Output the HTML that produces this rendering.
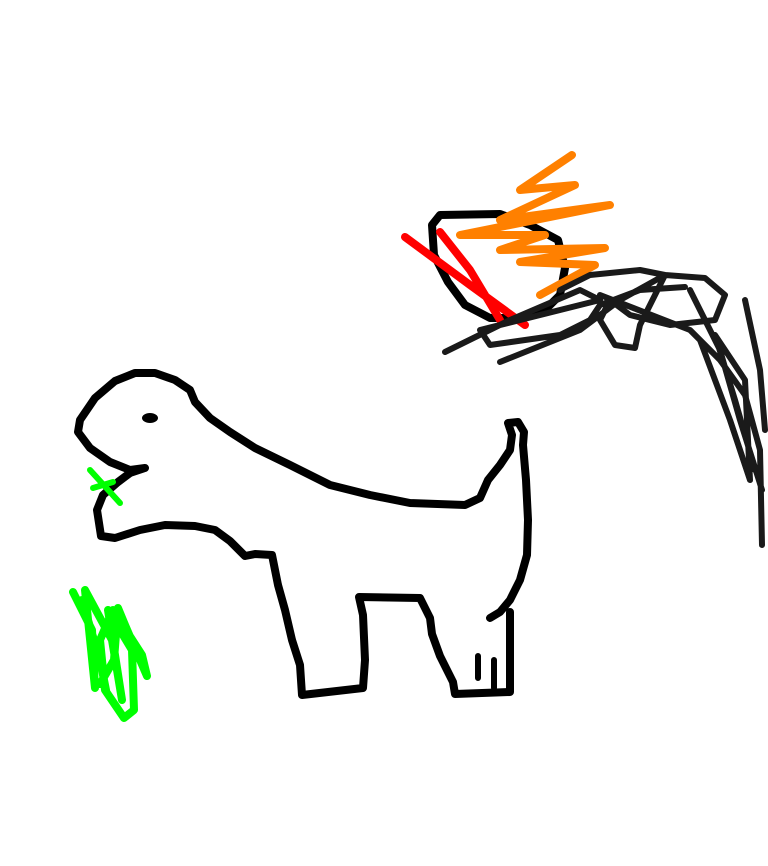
<!DOCTYPE html>
<html><head><meta charset="utf-8"><style>
html,body{margin:0;padding:0;background:#fff;width:768px;height:866px;overflow:hidden}
svg{display:block}
</style></head><body>
<svg width="768" height="866" viewBox="0 0 768 866" xmlns="http://www.w3.org/2000/svg" fill="none" stroke-linecap="round" stroke-linejoin="round">
<path stroke="#000" stroke-width="8" d="M145,468 L130,470 L110,462 L90,448 L78,432 L80,420 L95,398 L115,381 L135,373 L155,373 L175,380 L190,390 L195,402 L210,418 L230,432 L255,448 L290,465 L330,485 L370,495 L410,503 L465,505 L480,498 L488,480 L500,465 L510,450 L512,435 L508,423 L518,422 L524,432 L523,445 L526,480 L528,520 L527,555 L520,580 L510,600 L500,612 L490,618 M510,612 L510,692 L455,694 L453,682 L440,656 L432,634 L430,618 L420,598 L359,597 L363,615 L365,660 L363,688 L302,695 L300,665 L292,640 L285,610 L278,585 L272,555 L255,554 L245,556 L230,541 L215,530 L195,526 L165,525 L140,530 L115,538 L101,536 L97,510 L103,495 L118,482 L130,473 L145,468"/>
<ellipse cx="150" cy="418" rx="8" ry="5" fill="#000"/>
<path stroke="#000" stroke-width="6" d="M478,656 L478,678 M494,660 L494,688"/>
<path stroke="#00ff00" stroke-width="6" d="M90,470 L120,503 M93,488 L113,482"/>
<path stroke="#00ff00" stroke-width="8" d="M73,592 L92,630 L95,688 L85,590 L112,640 L122,700 L108,610 L132,650 L134,710 L124,718 L105,690 L100,640 L113,610 L142,655 L147,676 L125,625 L118,608 L114,660 L100,684 M82,600 L100,660 L106,690"/>
<path stroke="#000" stroke-width="8" d="M440,215 L500,214 L530,225 L558,240 L565,268 L560,295 L545,310 L520,318 L490,318 L465,305 L448,282 L434,255 L432,225 Z"/>
<path stroke="#ff0000" stroke-width="8" d="M405,237 L470,285 L525,325 M440,232 L470,270 L500,320"/>
<path stroke="#ff8000" stroke-width="8" d="M572,155 L520,190 L575,185 L500,220 L610,205 L460,235 L545,235 L500,250 L605,248 L520,262 L595,265 L540,295"/>
<path stroke="#1a1a1a" stroke-width="6" d="M445,352 L510,320 L580,290 L600,300 L480,330 L490,345 L560,335 L590,320 L600,305 L640,290 L685,287 M500,362 L580,330 L620,300 L665,275 L705,278 L725,295 L715,320 L670,325 L630,315 L610,300 L600,320 L615,345 L635,348 L640,325 L665,275 L640,270 L590,275 L560,290 M600,295 L690,330 L720,360 L745,395 L760,450 L762,545 M690,290 L720,350 L740,420 L762,490 M745,300 L760,370 L765,430 M700,340 L730,420 L750,480 L745,380 L715,335 L735,400 L755,470"/>
</svg>
</body></html>
